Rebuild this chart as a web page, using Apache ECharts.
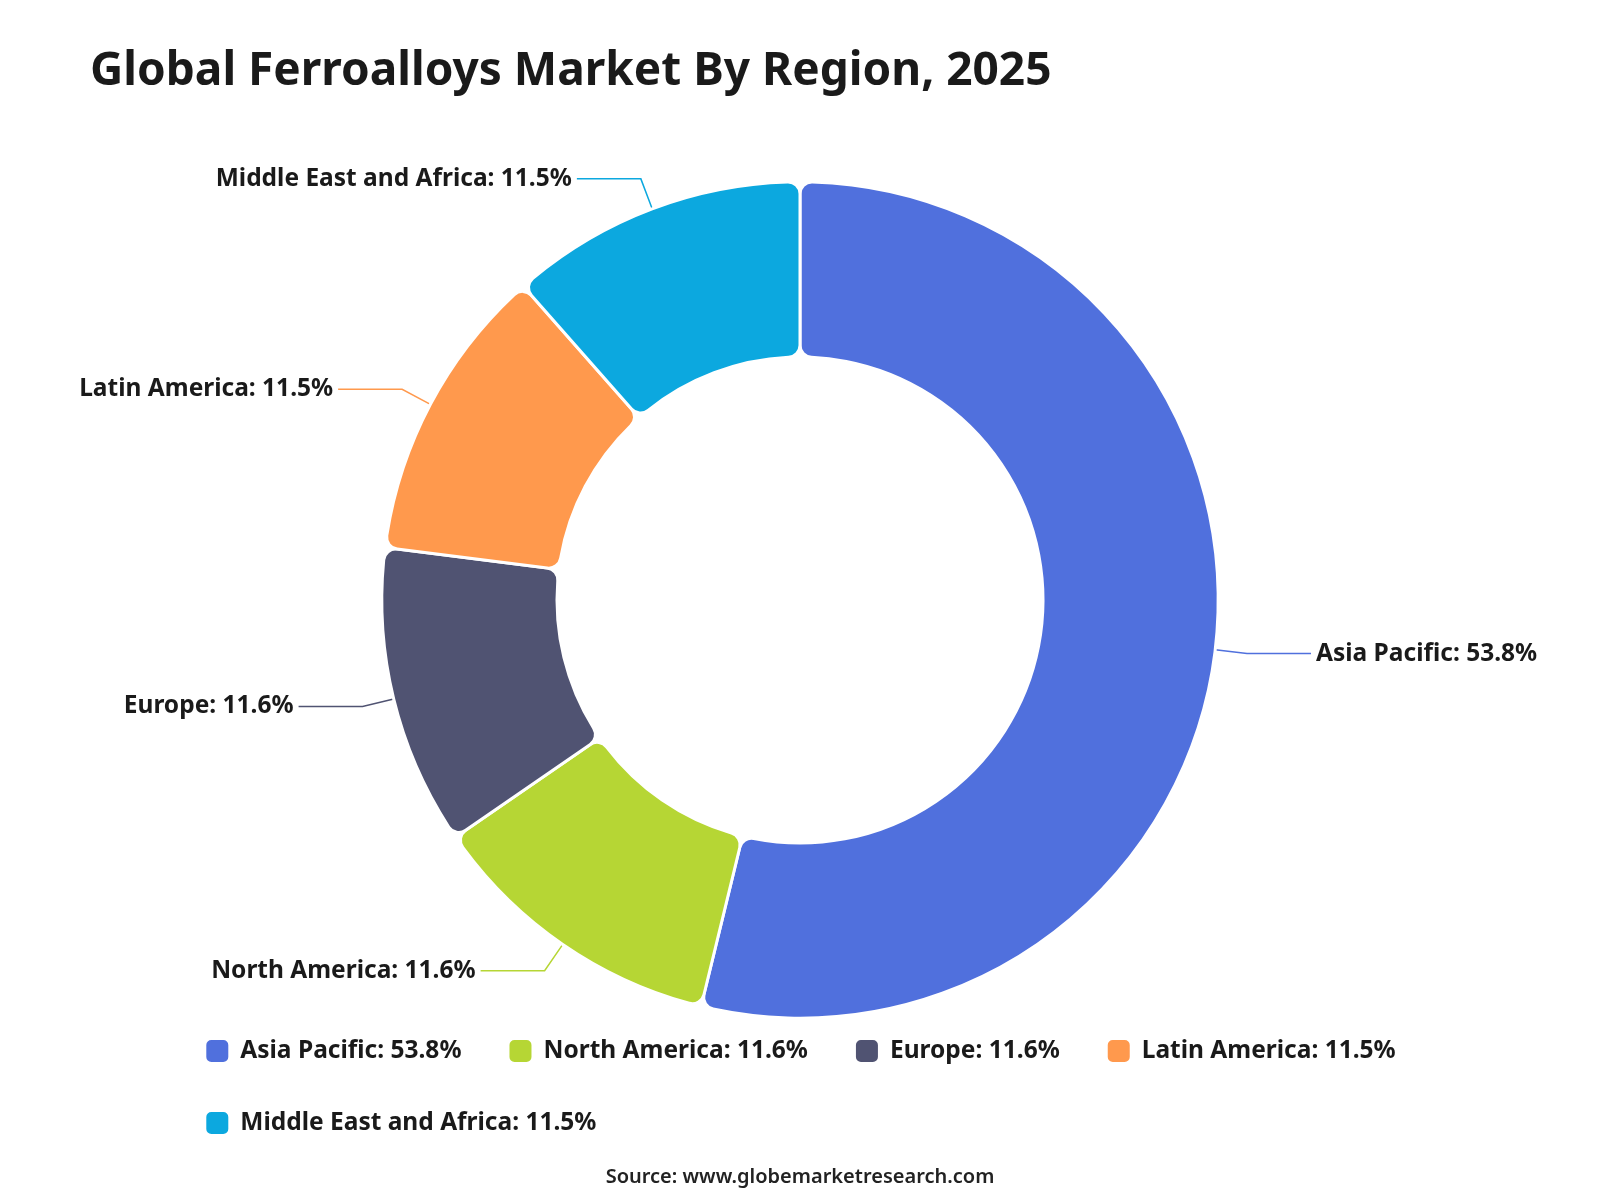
<!DOCTYPE html>
<html>
<head>
<meta charset="utf-8">
<script src="https://cdn.jsdelivr.net/npm/echarts@6/dist/echarts.min.js"></script>
<style>html,body{margin:0;padding:0;background:#fff}#c{width:1600px;height:1200px}</style>
</head>
<body>
<div id="c"></div>
<script>
const regions = ['Asia Pacific', 'North America', 'Europe', 'Latin America', 'Middle East and Africa'];
const shares = [53.8, 11.6, 11.6, 11.5, 11.5];
const colors = ['#5070dd', '#b6d634', '#505372', '#ff994d', '#0ca8df'];
const titleText = 'Global Ferroalloys Market By Region, 2025';
const sourceText = 'Source: www.globemarketresearch.com';

const FONT = "'Noto Sans', sans-serif";
const chart = echarts.init(document.getElementById('c'));
chart.setOption({
  color: colors,
  title: [{
    text: titleText,
    left: 85, top: 44,
    textStyle: {fontFamily: FONT, fontSize: 46, fontWeight: 'bold', color: '#1a1a1a'}
  }, {
    text: sourceText,
    left: 'center', bottom: 8,
    textStyle: {fontFamily: FONT, fontSize: 20, fontWeight: 600, color: '#222'}
  }],
  legend: {
    left: 'center', bottom: 59, width: 1280,
    itemWidth: 24, itemHeight: 24, itemGap: 46,
    icon: 'roundRect',
    formatter: function (name) {
      const i = regions.indexOf(name);
      return name + ': ' + shares[i].toFixed(1) + '%';
    },
    textStyle: {fontFamily: FONT, fontSize: 24.5, fontWeight: 'bold', color: '#1a1a1a', padding: [0, 0, 0, 6]}
  },
  series: [{
    type: 'pie',
    center: ['50%', '50%'],
    radius: ['40.5%', '69.7%'],
    startAngle: 90,
    clockwise: true,
    itemStyle: {borderColor: '#fff', borderWidth: 3, borderRadius: 12},
    label: {
      show: true,
      formatter: function (p) { return p.name + ': ' + p.value.toFixed(1) + '%'; },
      fontFamily: FONT, fontSize: 24.5, fontWeight: 'bold', color: '#1a1a1a'
    },
    labelLine: {length: 32, length2: 64, lineStyle: {width: 1.5}},
    data: regions.map((r, i) => ({name: r, value: shares[i]}))
  }]
});
</script>
</body>
</html>
